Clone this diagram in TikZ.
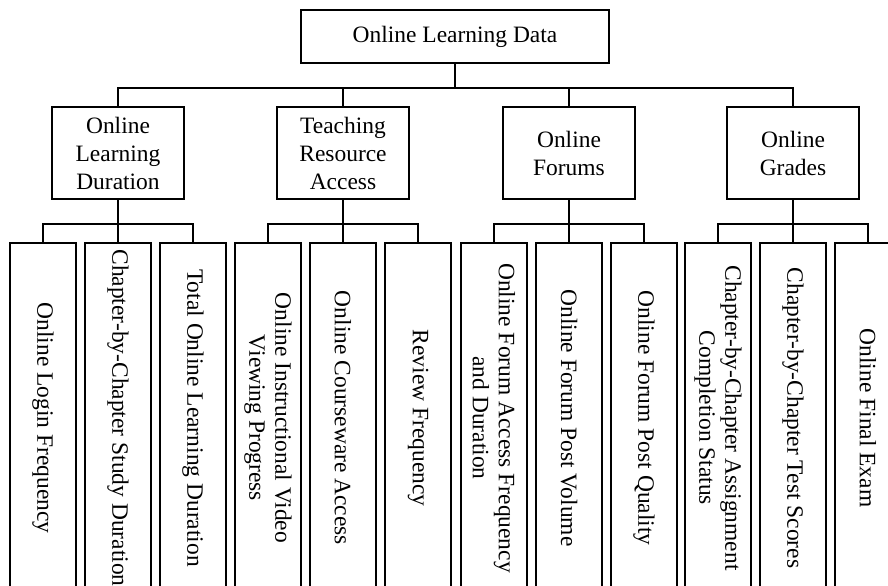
\documentclass[tikz,border=0pt]{standalone}
\usepackage{fontspec}
\setmainfont{Liberation Serif}
\usepackage{tikz}
\usetikzlibrary{positioning}

\begin{document}
\begin{tikzpicture}[x=0.75pt, y=-0.75pt]
  \tikzstyle{box}=[rectangle, draw, line width=1.4pt, align=center, inner sep=0pt, font=\fontsize{17.6}{21}\selectfont]
  \tikzstyle{group}=[box, minimum width=99pt, minimum height=69pt]
  \tikzstyle{leaf}=[box, rotate=-90, minimum width=262pt, minimum height=49.5pt, font=\fontsize{17.6}{19.5}\selectfont]
  \tikzstyle{link}=[line width=1.4pt]
  \useasboundingbox (0,0) rectangle (888,585);
  \clip (0,0) rectangle (888,585);
  % root and the four groups
  \node[box, minimum width=231pt, minimum height=39.75pt] (root) at (455,36.5) {Online Learning Data};
  \node[group] (dur) at (118,153) {Online\\Learning\\Duration};
  \node[group] (res) at (343,153) {Teaching\\Resource\\Access};
  \node[group] (frm) at (569,153) {Online\\Forums};
  \node[group] (grd) at (793,153) {Online\\Grades};
  % leaves
  \node[leaf] (d1) at (43,418) {Online Login Frequency};
  \node[leaf] (d2) at (118,418) {Chapter-by-Chapter Study Duration};
  \node[leaf] (d3) at (193,418) {Total Online Learning Duration};
  \node[leaf] (r1) at (268,418) {Online Instructional Video\\Viewing Progress};
  \node[leaf] (r2) at (343,418) {Online Courseware Access};
  \node[leaf] (r3) at (418,418) {Review Frequency};
  \node[leaf] (f1) at (494,418) {Online Forum Access Frequency\\and Duration};
  \node[leaf] (f2) at (569,418) {Online Forum Post Volume};
  \node[leaf] (f3) at (644,418) {Online Forum Post Quality};
  \node[leaf] (s1) at (718,418) {Chapter-by-Chapter Assignment\\Completion Status};
  \node[leaf] (s2) at (793,418) {Chapter-by-Chapter Test Scores};
  \node[leaf] (s3) at (868,418) {Online Final Exam};
  % buses
  \coordinate (rootbus) at (455,88);
  \coordinate (durbus) at (118,224);
  \coordinate (resbus) at (343,224);
  \coordinate (frmbus) at (569,224);
  \coordinate (grdbus) at (793,224);
  \draw[link] (root) -- (rootbus);
  \draw[link] (dur.north) |- (rootbus) -| (grd.north);
  \draw[link] (res.north) -- (res.north |- rootbus);
  \draw[link] (frm.north) -- (frm.north |- rootbus);
  \draw[link] (dur) -- (durbus);
  \draw[link] (d1.west) |- (durbus) -| (d3.west);
  \draw[link] (d2.west) -- (durbus);
  \draw[link] (res) -- (resbus);
  \draw[link] (r1.west) |- (resbus) -| (r3.west);
  \draw[link] (r2.west) -- (resbus);
  \draw[link] (frm) -- (frmbus);
  \draw[link] (f1.west) |- (frmbus) -| (f3.west);
  \draw[link] (f2.west) -- (frmbus);
  \draw[link] (grd) -- (grdbus);
  \draw[link] (s1.west) |- (grdbus) -| (s3.west);
  \draw[link] (s2.west) -- (grdbus);
\end{tikzpicture}
\end{document}
